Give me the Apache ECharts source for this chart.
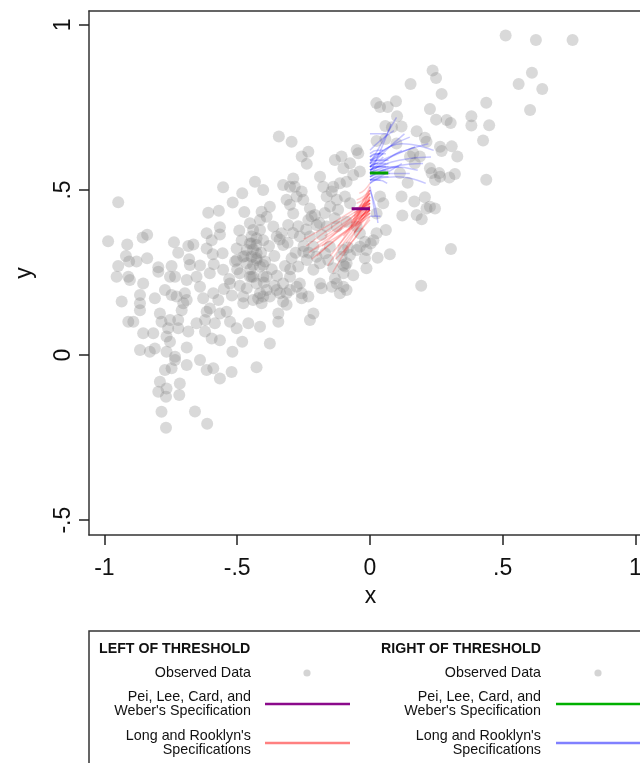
<!DOCTYPE html>
<html>
<head>
<meta charset="utf-8">
<script src="https://cdn.jsdelivr.net/npm/echarts@6/dist/echarts.min.js"></script>
<style>
  html, body { margin: 0; padding: 0; background: #fff; }
  #chart { width: 640px; height: 763px; }
</style>
</head>
<body>
<div id="chart"></div>
<script>
// tick positions
const xTicks = [-1, -0.5, 0, 0.5, 1]
const yTicks = [-0.5, 0, 0.5, 1]

// observed data, left of threshold (x < 0)
const obsLeft = [
  [-0.257,0.601],[-0.232,0.616],[-0.238,0.579],[-0.132,0.591],[-0.107,0.601],[-0.075,0.581],[-0.100,0.566],[-0.044,0.611],
  [-0.038,0.556],[-0.063,0.545],[-0.188,0.540],[-0.176,0.510],[-0.138,0.510],[-0.113,0.520],[-0.088,0.525],[-0.327,0.515],
  [-0.289,0.535],[-0.283,0.510],[-0.257,0.495],[-0.276,0.480],[-0.251,0.470],[-0.433,0.525],[-0.402,0.500],[-0.377,0.449],
  [-0.408,0.434],[-0.414,0.409],[-0.314,0.470],[-0.301,0.455],[-0.289,0.429],[-0.308,0.394],[-0.226,0.444],[-0.232,0.409],
  [-0.207,0.424],[-0.201,0.394],[-0.163,0.480],[-0.144,0.495],[-0.125,0.470],[-0.094,0.480],[-0.075,0.460],[-0.132,0.414],
  [-0.125,0.389],[-0.088,0.404],[-0.050,0.389],[-0.163,0.389],[-0.182,0.364],[-0.226,0.359],[-0.264,0.359],[-0.364,0.389],
  [-0.351,0.359],[-0.333,0.369],[-0.327,0.333],[-0.440,0.379],[-0.427,0.354],[-0.446,0.338],[-0.019,0.343],[-0.038,0.328],
  [-0.013,0.318],[-0.050,0.318],[-0.100,0.318],[-0.107,0.298],[-0.075,0.303],[-0.088,0.278],[-0.094,0.268],[-0.151,0.328],
  [-0.169,0.308],[-0.157,0.288],[-0.138,0.263],[-0.213,0.328],[-0.201,0.298],[-0.238,0.288],[-0.251,0.313],[-0.019,0.293],
  [-0.013,0.263],[-0.063,0.242],[-0.100,0.248],[-0.132,0.232],[-0.144,0.207],[-0.188,0.217],[-0.182,0.202],[-0.125,0.217],
  [-0.100,0.207],[-0.088,0.197],[-0.113,0.187],[-0.264,0.217],[-0.257,0.187],[-0.232,0.177],[-0.314,0.187],[-0.327,0.217],
  [-0.301,0.237],[-0.351,0.197],[-0.389,0.197],[-0.377,0.177],[-0.414,0.187],[-0.446,0.298],[-0.427,0.288],[-0.440,0.273],
  [-0.402,0.273],[-0.446,0.237],[-0.402,0.237],[-0.427,0.217],[-0.295,0.293],[-0.270,0.268],[-0.188,0.278],[-0.213,0.258],
  [-0.038,0.369],[-0.082,0.326],[-0.100,0.273],[-0.343,0.662],[-0.295,0.646],[-0.050,0.621],[-0.301,0.510],
  [-0.948,0.463],[-0.553,0.508],[-0.481,0.490],[-0.517,0.462],[-0.473,0.433],[-0.569,0.437],[-0.609,0.431],[-0.986,0.345],
  [-0.914,0.335],[-0.856,0.356],[-0.839,0.364],[-0.738,0.342],[-0.684,0.330],[-0.665,0.335],[-0.615,0.369],[-0.565,0.387],
  [-0.565,0.365],[-0.596,0.348],[-0.615,0.323],[-0.492,0.377],[-0.452,0.399],[-0.414,0.379],[-0.446,0.359],[-0.483,0.348],
  [-0.502,0.323],[-0.389,0.419],[-0.919,0.300],[-0.879,0.283],[-0.907,0.283],[-0.839,0.293],[-0.722,0.310],[-0.681,0.290],
  [-0.640,0.271],[-0.592,0.305],[-0.588,0.275],[-0.555,0.308],[-0.948,0.270],[-0.797,0.266],[-0.747,0.270],[-0.678,0.273],
  [-0.508,0.283],[-0.477,0.298],[-0.427,0.293],[-0.395,0.283],[-0.954,0.237],[-0.910,0.237],[-0.734,0.237],[-0.653,0.237],
  [-0.603,0.248],[-0.553,0.258],[-0.427,0.333],[-0.402,0.348],[-0.452,0.338],[-0.464,0.318],[-0.427,0.308],[-0.502,0.288],
  [-0.464,0.278],[-0.414,0.268],[-0.389,0.237],[-0.439,0.237],[-0.490,0.248],
  [-0.904,0.227],[-0.854,0.217],[-0.797,0.252],[-0.753,0.237],[-0.690,0.227],[-0.640,0.207],[-0.935,0.162],[-0.866,0.182],
  [-0.866,0.157],[-0.866,0.136],[-0.810,0.172],[-0.772,0.197],[-0.747,0.182],[-0.728,0.177],[-0.697,0.187],[-0.690,0.167],
  [-0.910,0.101],[-0.891,0.101],[-0.854,0.066],[-0.816,0.066],[-0.791,0.126],[-0.785,0.101],[-0.753,0.106],[-0.722,0.106],
  [-0.709,0.136],[-0.703,0.157],[-0.760,0.081],[-0.766,0.056],[-0.753,0.040],[-0.722,0.081],[-0.684,0.071],[-0.653,0.096],
  [-0.621,0.106],[-0.621,0.071],[-0.596,0.050],[-0.565,0.045],[-0.628,0.172],[-0.590,0.187],[-0.603,0.141],[-0.571,0.167],
  [-0.540,0.131],[-0.527,0.101],[-0.502,0.081],[-0.584,0.096],[-0.527,0.217],[-0.452,0.237],[-0.408,0.157],[-0.421,0.172],
  [-0.477,0.157],[-0.458,0.096],[-0.414,0.086],[-0.481,0.040],[-0.518,0.010],[-0.427,-0.037],[-0.377,0.035],[-0.866,0.015],
  [-0.829,0.010],[-0.810,0.020],[-0.766,0.010],[-0.734,-0.005],[-0.690,0.023],[-0.690,-0.030],[-0.734,-0.015],[-0.747,-0.040],
  [-0.772,-0.045],[-0.640,-0.015],[-0.615,-0.045],[-0.590,-0.040],[-0.565,-0.071],[-0.521,-0.051],[-0.791,-0.081],[-0.766,-0.101],
  [-0.797,-0.111],[-0.716,-0.086],[-0.718,-0.121],[-0.768,-0.126],[-0.785,-0.172],[-0.659,-0.171],[-0.768,-0.220],[-0.613,-0.208],
  [-0.213,0.126],[-0.226,0.106],[-0.257,0.172],[-0.327,0.162],[-0.314,0.152],[-0.345,0.126],[-0.345,0.101],[-0.440,0.167],
  [-0.402,0.177],[-0.339,0.187],[-0.301,0.197],[-0.276,0.207],[-0.464,0.202],[-0.477,0.177],[-0.615,0.131],[-0.565,0.126],
  [-0.47,0.30],[-0.44,0.32],[-0.41,0.31],[-0.38,0.33],[-0.36,0.30],[-0.34,0.35],[-0.31,0.34],[-0.29,0.37],
  [-0.27,0.39],[-0.24,0.38],[-0.22,0.42],[-0.19,0.40],[-0.17,0.43],[-0.15,0.45],[-0.12,0.44],[-0.37,0.26],
  [-0.35,0.24],[-0.32,0.27],[-0.30,0.26],[-0.28,0.31],[-0.25,0.33],[-0.23,0.31],[-0.50,0.26],[-0.53,0.23],
  [-0.55,0.20],[-0.52,0.18],[-0.49,0.21],[-0.45,0.26],[-0.40,0.22],[-0.36,0.21]
]

// observed data, right of threshold (x >= 0)
const obsRight = [
  [0.511,0.968],[0.625,0.954],[0.763,0.954],[0.610,0.855],[0.560,0.821],[0.649,0.806],[0.603,0.742],[0.438,0.764],
  [0.382,0.723],[0.382,0.695],[0.449,0.696],[0.426,0.650],[0.438,0.531],[0.249,0.839],[0.236,0.862],[0.270,0.791],
  [0.226,0.745],[0.249,0.713],[0.289,0.712],[0.304,0.703],[0.264,0.631],[0.270,0.618],[0.308,0.632],[0.329,0.601],
  [0.320,0.548],[0.299,0.538],[0.264,0.540],[0.245,0.530],[0.226,0.566],[0.232,0.551],[0.245,0.444],[0.226,0.449],
  [0.153,0.821],[0.024,0.763],[0.038,0.751],[0.067,0.751],[0.098,0.769],[0.102,0.723],[0.058,0.694],[0.083,0.690],
  [0.119,0.692],[0.176,0.678],[0.207,0.658],[0.213,0.646],[0.025,0.648],[0.058,0.654],[0.163,0.611],[0.188,0.601],
  [0.261,0.551],[0.142,0.522],[0.119,0.480],[0.167,0.465],[0.207,0.478],[0.213,0.444],[0.176,0.424],[0.195,0.411],
  [0.122,0.423],[0.060,0.379],[0.025,0.369],[0.075,0.305],[0.029,0.295],[0.305,0.321],[0.193,0.210],[0.013,0.348],
  [0.003,0.338],[0.100,0.641],[0.151,0.601],[0.169,0.581],[0.113,0.551],[0.038,0.480],[0.050,0.460],[0.025,0.429]
]

// Long and Rooklyn fits, left of threshold
const redFits = [
  [[-0.24,0.33],[-0.12,0.40],[0,0.46]],
  [[-0.23,0.31],[-0.11,0.38],[0,0.44]],
  [[-0.25,0.35],[-0.12,0.41],[0,0.47]],
  [[-0.20,0.30],[-0.10,0.37],[0,0.43]],
  [[-0.22,0.29],[-0.11,0.36],[0,0.42]],
  [[-0.18,0.33],[-0.09,0.40],[0,0.47]],
  [[-0.16,0.27],[-0.08,0.36],[0,0.44]],
  [[-0.15,0.30],[-0.07,0.38],[0,0.45]],
  [[-0.14,0.25],[-0.07,0.34],[0,0.41]],
  [[-0.12,0.33],[-0.06,0.40],[0,0.48]],
  [[-0.10,0.36],[-0.05,0.42],[0,0.49]],
  [[-0.10,0.31],[-0.05,0.38],[0,0.44]],
  [[-0.08,0.38],[-0.04,0.43],[0,0.50]],
  [[-0.07,0.40],[-0.035,0.44],[0,0.46]],
  [[-0.06,0.42],[-0.03,0.46],[0,0.51]],
  [[-0.05,0.43],[-0.025,0.45],[0,0.47]],
  [[-0.04,0.41],[-0.02,0.43],[0,0.45]],
  [[-0.03,0.44],[-0.015,0.45],[0,0.48]],
  [[-0.20,0.34],[-0.10,0.39],[0,0.45]],
  [[-0.17,0.36],[-0.08,0.41],[0,0.46]],
  [[-0.21,0.32],[-0.10,0.37],[0,0.43]],
  [[-0.13,0.29],[-0.06,0.35],[0,0.42]],
  [[-0.09,0.34],[-0.04,0.39],[0,0.43]],
  [[-0.06,0.37],[-0.03,0.41],[0,0.44]],
  [[-0.05,0.47],[-0.025,0.48],[0,0.50]],
  [[-0.04,0.49],[-0.02,0.50],[0,0.52]],
  [[-0.06,0.40],[-0.03,0.43],[0,0.46]],
  [[-0.065,0.41],[-0.03,0.44],[0,0.47]],
  [[-0.05,0.42],[-0.025,0.44],[0,0.45]],
  [[-0.055,0.39],[-0.03,0.42],[0,0.44]],
  [[-0.045,0.44],[-0.02,0.46],[0,0.48]],
  [[-0.04,0.45],[-0.02,0.47],[0,0.49]],
  [[-0.06,0.43],[-0.03,0.45],[0,0.47]],
  [[-0.035,0.42],[-0.015,0.43],[0,0.44]],
  [[-0.05,0.46],[-0.025,0.47],[0,0.49]],
  [[-0.07,0.39],[-0.035,0.42],[0,0.45]],
  [[-0.03,0.47],[-0.015,0.48],[0,0.50]],
  [[-0.045,0.41],[-0.02,0.43],[0,0.46]]
]

// Long and Rooklyn fits, right of threshold
const blueFits = [
  [[0,0.55],[0.06,0.59],[0.12,0.62]],
  [[0,0.56],[0.08,0.60],[0.17,0.63]],
  [[0,0.54],[0.09,0.57],[0.20,0.58]],
  [[0,0.57],[0.10,0.61],[0.22,0.64]],
  [[0,0.53],[0.07,0.55],[0.15,0.55]],
  [[0,0.58],[0.05,0.65],[0.10,0.72]],
  [[0,0.55],[0.04,0.62],[0.08,0.70]],
  [[0,0.59],[0.03,0.60],[0.05,0.61]],
  [[0,0.52],[0.02,0.53],[0.04,0.53]],
  [[0,0.56],[0.03,0.57],[0.06,0.57]],
  [[0,0.60],[0.02,0.61],[0.04,0.61]],
  [[0,0.54],[0.05,0.56],[0.11,0.57]],
  [[0,0.53],[0.10,0.54],[0.21,0.52]],
  [[0,0.58],[0.12,0.64],[0.24,0.62]],
  [[0,0.57],[0.06,0.62],[0.13,0.67]],
  [[0,0.55],[0.08,0.57],[0.18,0.56]],
  [[0,0.51],[0.01,0.47],[0.02,0.42]],
  [[0,0.50],[0.02,0.45],[0.03,0.40]],
  [[0,0.62],[0.04,0.65],[0.09,0.68]],
  [[0,0.56],[0.11,0.59],[0.23,0.60]],
  [[0,0.42],[0.02,0.42],[0.04,0.42]],
  [[0,0.59],[0.07,0.63],[0.15,0.66]],
  [[0,0.52],[0.06,0.55],[0.12,0.58]],
  [[0,0.57],[0.02,0.58],[0.03,0.58]],
  [[0,0.67],[0.03,0.67],[0.06,0.67]],
  [[0,0.53],[0.035,0.54],[0.07,0.54]],
  [[0,0.54],[0.035,0.55],[0.07,0.56]],
  [[0,0.55],[0.03,0.56],[0.06,0.56]],
  [[0,0.56],[0.035,0.57],[0.07,0.58]],
  [[0,0.57],[0.03,0.58],[0.06,0.58]],
  [[0,0.58],[0.035,0.59],[0.07,0.59]],
  [[0,0.59],[0.03,0.59],[0.05,0.60]],
  [[0,0.60],[0.035,0.61],[0.06,0.61]],
  [[0,0.53],[0.03,0.53],[0.065,0.52]],
  [[0,0.55],[0.04,0.55],[0.075,0.55]],
  [[0,0.57],[0.04,0.57],[0.07,0.57]],
  [[0,0.61],[0.03,0.62],[0.05,0.62]]
]

// Pei, Lee, Card, and Weber estimates
const peiLeft = [[-0.069,0.443],[0,0.443]]
const peiRight = [[0,0.551],[0.069,0.551]]

const FONT = '"Liberation Sans", Arial, sans-serif'
const fmt = v => v === 0 ? '0' : (v < 0 ? '-' : '') + String(Math.abs(v)).replace(/^0/, '')

const chart = echarts.init(document.getElementById('chart'))

const fitSeries = (fits, color) => fits.map(f => ({
  type: 'line',
  data: f,
  smooth: true,
  showSymbol: false,
  silent: true,
  lineStyle: { color, width: 1.5 },
  z: 3
}))

const legendText = (text, x, y, bold) => ({
  type: 'text',
  x, y,
  style: {
    text,
    font: (bold ? 'bold 14.2px ' : '14.3px ') + FONT,
    fill: '#111',
    align: bold ? 'left' : 'right',
    textAlign: bold ? 'left' : 'right',
    verticalAlign: 'middle',
    textVerticalAlign: 'middle',
    lineHeight: 14.5
  }
})

const frameLine = { show: true, onZero: false, lineStyle: { color: '#333', width: 1.5 } }

const option = {
  animation: false,
  // plot frame runs past the right edge of the picture, so the axis stops at 1.017
  grid: { left: 89, top: 11, width: 551, height: 524, outerBoundsMode: 'none' },
  xAxis: [
    {
      type: 'value', min: -1.058, max: 1.017,
      axisLine: frameLine,
      splitLine: { show: false },
      axisTick: { show: true, length: 10, customValues: xTicks, lineStyle: { color: '#222', width: 1.5 } },
      axisLabel: { customValues: xTicks, formatter: fmt, fontSize: 23, color: '#111', margin: 22, fontFamily: FONT },
      name: 'x', nameLocation: 'middle', nameGap: 31,
      // shift the title to the middle of the full (cropped) frame
      nameTextStyle: { fontSize: 23, color: '#111', fontFamily: FONT, padding: [0, 0, 0, 12] }
    },
    {
      // top edge of the frame
      type: 'value', position: 'top', min: -1.058, max: 1.017,
      axisLine: frameLine, axisTick: { show: false }, axisLabel: { show: false }, splitLine: { show: false }
    }
  ],
  yAxis: {
    type: 'value', min: -0.545, max: 1.042,
    axisLine: frameLine,
    splitLine: { show: false },
    axisTick: { show: true, length: 10, customValues: yTicks, lineStyle: { color: '#222', width: 1.5 } },
    axisLabel: { customValues: yTicks, formatter: fmt, fontSize: 23, color: '#111', margin: 14, rotate: 90, fontFamily: FONT },
    name: 'y', nameLocation: 'middle', nameGap: 53,
    nameTextStyle: { fontSize: 23, color: '#111', fontFamily: FONT }
  },
  series: [
    { type: 'scatter', data: obsLeft, symbolSize: 12, itemStyle: { color: '#808080', opacity: 0.3 }, z: 2 },
    { type: 'scatter', data: obsRight, symbolSize: 12, itemStyle: { color: '#808080', opacity: 0.3 }, z: 2 },
    ...fitSeries(redFits, 'rgba(255,0,0,0.2)'),
    ...fitSeries(blueFits, 'rgba(0,0,255,0.22)'),
    { type: 'line', data: peiLeft, showSymbol: false, lineStyle: { color: '#800080', width: 3 }, z: 5 },
    { type: 'line', data: peiRight, showSymbol: false, lineStyle: { color: '#00a000', width: 3 }, z: 5 }
  ],
  graphic: [
    // legend box
    { type: 'rect', shape: { x: 89, y: 631, width: 600, height: 200 }, style: { fill: 'none', stroke: '#333', lineWidth: 1.5 } },
    legendText('LEFT OF THRESHOLD', 99, 649, true),
    legendText('Observed Data', 251, 673),
    { type: 'circle', shape: { cx: 307, cy: 673, r: 3.6 }, style: { fill: '#d4d4d4' } },
    legendText("Pei, Lee, Card, and\nWeber's Specification", 251, 704),
    { type: 'line', shape: { x1: 265, y1: 704, x2: 350, y2: 704 }, style: { stroke: '#8b0a8b', lineWidth: 2.5 } },
    legendText("Long and Rooklyn's\nSpecifications", 251, 743),
    { type: 'line', shape: { x1: 265, y1: 743, x2: 350, y2: 743 }, style: { stroke: '#ff8080', lineWidth: 2.5 } },
    legendText('RIGHT OF THRESHOLD', 381, 649, true),
    legendText('Observed Data', 541, 673),
    { type: 'circle', shape: { cx: 598, cy: 673, r: 3.6 }, style: { fill: '#d4d4d4' } },
    legendText("Pei, Lee, Card, and\nWeber's Specification", 541, 704),
    { type: 'line', shape: { x1: 556, y1: 704, x2: 660, y2: 704 }, style: { stroke: '#00b000', lineWidth: 2.5 } },
    legendText("Long and Rooklyn's\nSpecifications", 541, 743),
    { type: 'line', shape: { x1: 556, y1: 743, x2: 660, y2: 743 }, style: { stroke: '#8080ff', lineWidth: 2.5 } }
  ]
}

chart.setOption(option)
</script>
</body>
</html>
